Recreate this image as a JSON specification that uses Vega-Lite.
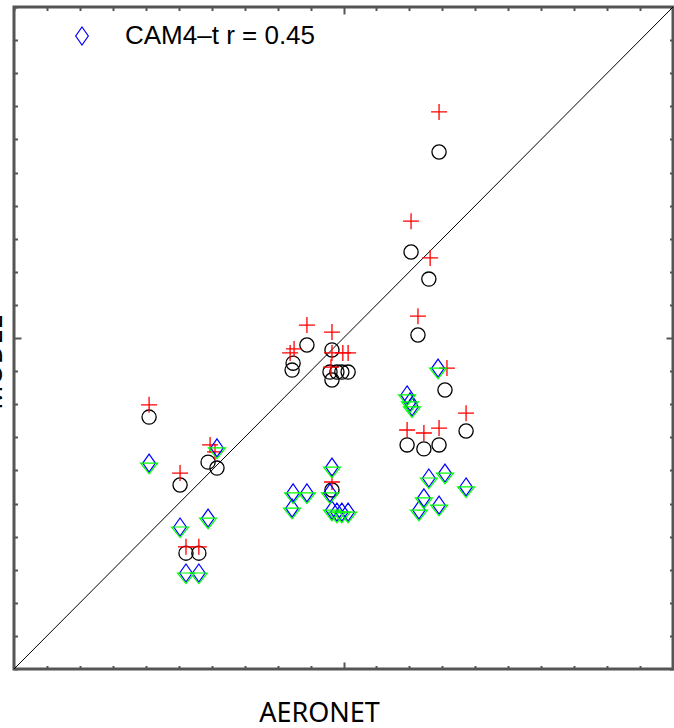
{
  "$schema": "https://vega.github.io/schema/vega-lite/v6.json",
  "width": 659,
  "height": 662,
  "autosize": {"type": "none"},
  "padding": {"left": 14, "top": 7, "right": 1, "bottom": 59},
  "background": "white",
  "config": {
    "view": {"stroke": "#555555", "strokeWidth": 3}
  },
  "datasets": {
    "diag": [{"a": 0, "b": 0}, {"a": 2, "b": 2}],
    "plus": [
      {"obs": 0.410, "mod": 0.798}, {"obs": 0.504, "mod": 0.592}, {"obs": 0.595, "mod": 0.677},
      {"obs": 0.610, "mod": 0.656}, {"obs": 0.522, "mod": 0.369}, {"obs": 0.561, "mod": 0.369},
      {"obs": 0.889, "mod": 1.039}, {"obs": 0.838, "mod": 0.955}, {"obs": 0.850, "mod": 0.967},
      {"obs": 0.965, "mod": 1.018}, {"obs": 0.965, "mod": 0.955}, {"obs": 0.998, "mod": 0.955},
      {"obs": 1.014, "mod": 0.955}, {"obs": 0.962, "mod": 0.912}, {"obs": 0.965, "mod": 0.565},
      {"obs": 1.205, "mod": 1.353}, {"obs": 1.290, "mod": 1.683}, {"obs": 1.263, "mod": 1.242},
      {"obs": 1.226, "mod": 1.066}, {"obs": 1.314, "mod": 0.909}, {"obs": 1.193, "mod": 0.722},
      {"obs": 1.244, "mod": 0.713}, {"obs": 1.290, "mod": 0.728}, {"obs": 1.372, "mod": 0.773}
    ],
    "circle": [
      {"obs": 0.410, "mod": 0.761}, {"obs": 0.504, "mod": 0.556}, {"obs": 0.589, "mod": 0.625},
      {"obs": 0.616, "mod": 0.607}, {"obs": 0.522, "mod": 0.350}, {"obs": 0.561, "mod": 0.350},
      {"obs": 0.889, "mod": 0.979}, {"obs": 0.847, "mod": 0.924}, {"obs": 0.844, "mod": 0.903},
      {"obs": 0.965, "mod": 0.964}, {"obs": 0.959, "mod": 0.897}, {"obs": 0.965, "mod": 0.873},
      {"obs": 0.980, "mod": 0.897}, {"obs": 0.995, "mod": 0.897}, {"obs": 1.014, "mod": 0.897},
      {"obs": 0.965, "mod": 0.541}, {"obs": 1.205, "mod": 1.260}, {"obs": 1.290, "mod": 1.562},
      {"obs": 1.259, "mod": 1.178}, {"obs": 1.226, "mod": 1.009}, {"obs": 1.308, "mod": 0.843},
      {"obs": 1.193, "mod": 0.677}, {"obs": 1.244, "mod": 0.665}, {"obs": 1.290, "mod": 0.677},
      {"obs": 1.372, "mod": 0.719}
    ],
    "diamond": [
      {"obs": 0.410, "mod": 0.622}, {"obs": 0.616, "mod": 0.668}, {"obs": 0.504, "mod": 0.429},
      {"obs": 0.589, "mod": 0.456}, {"obs": 0.522, "mod": 0.290}, {"obs": 0.561, "mod": 0.290},
      {"obs": 0.847, "mod": 0.532}, {"obs": 0.889, "mod": 0.532}, {"obs": 0.965, "mod": 0.610},
      {"obs": 0.959, "mod": 0.532}, {"obs": 0.844, "mod": 0.486}, {"obs": 0.965, "mod": 0.480},
      {"obs": 0.980, "mod": 0.474}, {"obs": 0.995, "mod": 0.474}, {"obs": 1.014, "mod": 0.474},
      {"obs": 1.287, "mod": 0.909}, {"obs": 1.193, "mod": 0.828}, {"obs": 1.202, "mod": 0.807},
      {"obs": 1.208, "mod": 0.792}, {"obs": 1.259, "mod": 0.577}, {"obs": 1.308, "mod": 0.592},
      {"obs": 1.372, "mod": 0.550}, {"obs": 1.244, "mod": 0.517}, {"obs": 1.290, "mod": 0.495},
      {"obs": 1.229, "mod": 0.480}
    ],
    "tri": [
      {"obs": 0.410, "mod": 0.622}, {"obs": 0.616, "mod": 0.668}, {"obs": 0.504, "mod": 0.429},
      {"obs": 0.589, "mod": 0.456}, {"obs": 0.522, "mod": 0.290}, {"obs": 0.561, "mod": 0.290},
      {"obs": 0.847, "mod": 0.532}, {"obs": 0.889, "mod": 0.532}, {"obs": 0.965, "mod": 0.610},
      {"obs": 0.959, "mod": 0.532}, {"obs": 0.844, "mod": 0.486}, {"obs": 0.965, "mod": 0.480},
      {"obs": 0.980, "mod": 0.474}, {"obs": 0.995, "mod": 0.474}, {"obs": 1.014, "mod": 0.474},
      {"obs": 1.287, "mod": 0.909}, {"obs": 1.193, "mod": 0.828}, {"obs": 1.202, "mod": 0.807},
      {"obs": 1.208, "mod": 0.792}, {"obs": 1.259, "mod": 0.577}, {"obs": 1.308, "mod": 0.592},
      {"obs": 1.372, "mod": 0.550}, {"obs": 1.244, "mod": 0.517}, {"obs": 1.290, "mod": 0.495},
      {"obs": 1.229, "mod": 0.480}
    ]
  },
  "layer": [
    {
      "data": {"name": "diag"},
      "mark": {"type": "line", "color": "black", "strokeWidth": 1},
      "encoding": {
        "x": {
          "field": "a", "type": "quantitative",
          "scale": {"domain": [0, 2], "nice": false, "zero": false},
          "axis": {
            "orient": "bottom", "domain": false, "grid": false, "labels": false,
            "values": [0, 0.1, 0.2, 0.3, 0.4, 0.5, 0.6, 0.7, 0.8, 0.9, 1, 1.1, 1.2, 1.3, 1.4, 1.5, 1.6, 1.7, 1.8, 1.9, 2],
            "tickColor": "#555555", "tickWidth": 2,
            "tickSize": {"condition": {"test": "datum.value === 1", "value": -7}, "value": -3.5},
            "title": "AERONET", "titleFont": "Noto Sans", "titleFontSize": 27, "titleFontWeight": "normal",
            "titleColor": "black", "titleX": 305, "titleY": 52, "titleBaseline": "alphabetic", "titleAlign": "center"
          }
        },
        "y": {
          "field": "b", "type": "quantitative",
          "scale": {"domain": [0, 2], "nice": false, "zero": false},
          "axis": {
            "orient": "left", "domain": false, "grid": false, "labels": false,
            "values": [0, 0.1, 0.2, 0.3, 0.4, 0.5, 0.6, 0.7, 0.8, 0.9, 1, 1.1, 1.2, 1.3, 1.4, 1.5, 1.6, 1.7, 1.8, 1.9, 2],
            "tickColor": "#555555", "tickWidth": 2,
            "tickSize": {"condition": {"test": "datum.value === 1", "value": -7}, "value": -3.5},
            "title": "MODEL", "titleFont": "Noto Sans", "titleFontSize": 27, "titleFontWeight": "normal",
            "titleColor": "black", "titleX": -12.5, "titleY": 355, "titleBaseline": "alphabetic", "titleAlign": "center", "titleAngle": 270
          }
        }
      }
    },
    {
      "data": {"name": "circle"},
      "mark": {"type": "point", "shape": "circle", "filled": false, "color": "black", "size": 201, "strokeWidth": 1.3, "opacity": 1},
      "encoding": {
        "x": {"field": "obs", "type": "quantitative", "axis": {
            "orient": "top", "domain": false, "grid": false, "labels": false, "title": null,
            "values": [0, 0.1, 0.2, 0.3, 0.4, 0.5, 0.6, 0.7, 0.8, 0.9, 1, 1.1, 1.2, 1.3, 1.4, 1.5, 1.6, 1.7, 1.8, 1.9, 2],
            "tickColor": "#555555", "tickWidth": 2,
            "tickSize": {"condition": {"test": "datum.value === 1", "value": -7}, "value": -3.5}
        }},
        "y": {"field": "mod", "type": "quantitative", "axis": {
            "orient": "right", "domain": false, "grid": false, "labels": false, "title": null,
            "values": [0, 0.1, 0.2, 0.3, 0.4, 0.5, 0.6, 0.7, 0.8, 0.9, 1, 1.1, 1.2, 1.3, 1.4, 1.5, 1.6, 1.7, 1.8, 1.9, 2],
            "tickColor": "#555555", "tickWidth": 2,
            "tickSize": {"condition": {"test": "datum.value === 1", "value": -7}, "value": -3.5}
        }}
      }
    },
    {
      "data": {"name": "plus"},
      "mark": {"type": "point", "shape": "M-1,0L1,0M0,-1L0,1", "filled": false, "color": "#ff0000", "size": 256, "strokeWidth": 1.3, "opacity": 1},
      "encoding": {
        "x": {"field": "obs", "type": "quantitative", "axis": null},
        "y": {"field": "mod", "type": "quantitative", "axis": null}
      }
    },
    {
      "data": {"name": "diamond"},
      "mark": {"type": "point", "shape": "M0,-1L0.7,0L0,1L-0.7,0Z", "filled": false, "size": 324, "strokeWidth": 1.2, "opacity": 1},
      "encoding": {
        "x": {"field": "obs", "type": "quantitative", "axis": null},
        "y": {"field": "mod", "type": "quantitative", "axis": null},
        "color": {
          "datum": "CAM4–t r = 0.45", "type": "nominal",
          "scale": {"range": ["#0000ff"]},
          "legend": {
            "orient": "none", "legendX": 55, "legendY": 16, "title": null, "padding": 0,
            "labelFont": "Liberation Sans", "labelFontSize": 26, "labelColor": "black", "labelLimit": 0,
            "symbolType": "M0,-1L0.7,0L0,1L-0.7,0Z", "symbolSize": 324, "symbolStrokeWidth": 1.2,
            "labelOffset": 30
          }
        }
      }
    },
    {
      "data": {"name": "tri"},
      "mark": {"type": "point", "shape": "M-1,0L1,0L0,1.25Z", "filled": false, "color": "#00ff00", "size": 289, "strokeWidth": 1.2, "opacity": 1},
      "encoding": {
        "x": {"field": "obs", "type": "quantitative", "axis": null},
        "y": {"field": "mod", "type": "quantitative", "axis": null}
      }
    }
  ],
  "resolve": {"axis": {"x": "independent", "y": "independent"}}
}
